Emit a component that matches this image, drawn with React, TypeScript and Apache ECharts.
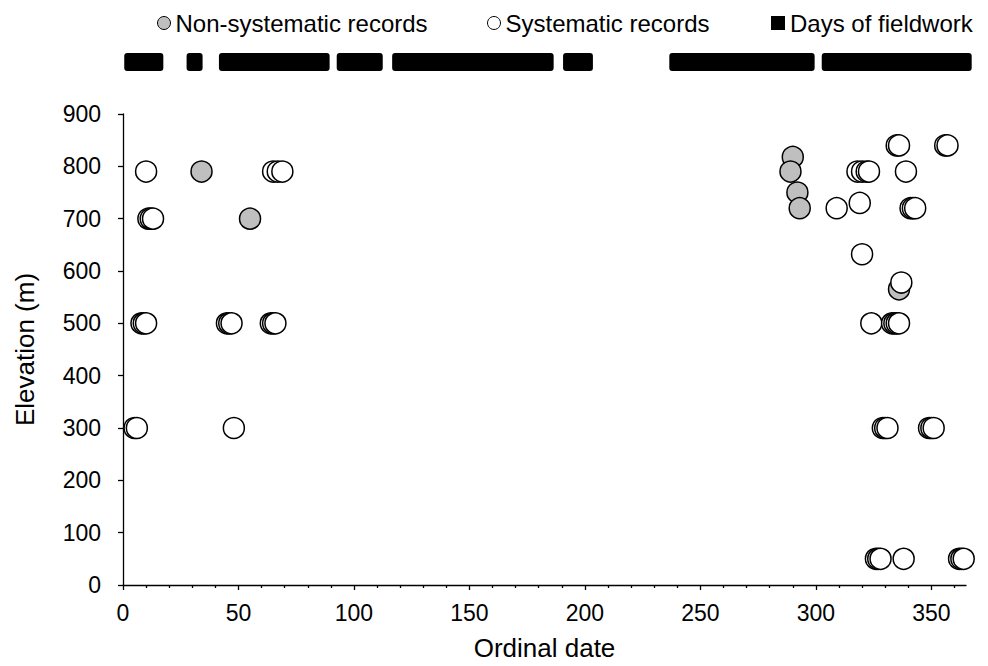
import React, { useEffect, useRef } from "react";
import * as echarts from "echarts";

const nonSystematic: [number, number][] = [
  [34, 790], [55, 700], [290, 818], [289, 790], [292, 750], [293, 720], [336, 565],
];

const systematic: [number, number][] = [
  [5, 300], [6, 300], [8, 500], [9, 500], [10, 500], [10, 790], [11, 700], [12, 700], [13, 700],
  [45, 500], [46, 500], [47, 500], [48, 300], [64, 500], [65, 500], [66, 500],
  [65, 790], [67, 790], [69, 790],
  [309, 720], [318, 790], [320, 790], [322, 790], [323, 790], [319, 730], [320, 632],
  [324, 500], [326, 50], [327, 50], [328, 50], [329, 300], [330, 300], [331, 300],
  [333, 500], [334, 500], [335, 500], [336, 500], [335, 840], [336, 840], [337, 578],
  [338, 50], [339, 790], [341, 720], [342, 720], [343, 720], [349, 300], [350, 300],
  [351, 300], [356, 840], [357, 840], [362, 50], [363, 50], [364, 50],
];

// [first day, last day] of each fieldwork period
const fieldworkPeriods: [number, number][] = [
  [4, 14], [31, 31], [45, 86], [96, 109], [120, 183], [194, 200], [240, 296], [306, 364],
];

const xMajorTicks = [0, 50, 100, 150, 200, 250, 300, 350];
const xMinorTicks = [
  10, 20, 30, 40, 60, 70, 80, 90, 110, 120, 130, 140, 160, 170, 180, 190, 210, 220, 230, 240,
  260, 270, 280, 290, 310, 320, 330, 340, 360,
];

const FONT = "Liberation Sans, Arial, sans-serif";

export default function App() {
  const ref = useRef<HTMLDivElement>(null);

  useEffect(() => {
    document.body.style.margin = "0";
    if (!ref.current) return;
    const chart = echarts.init(ref.current, undefined, { renderer: "svg" });
    const gridLeft = 123;
    const gridRight = 22;
    const legendText = { fontFamily: FONT, fontSize: 24, color: "#000" };
    chart.setOption({
      animation: false,
      backgroundColor: "#fff",
      textStyle: { fontFamily: FONT },
      legend: [
        {
          data: ["Non-systematic records"],
          left: 152,
          top: 6,
          itemWidth: 13,
          itemHeight: 13,
          textStyle: legendText,
          itemStyle: { borderWidth: 1 },
        },
        {
          data: ["Systematic records"],
          left: 482,
          top: 6,
          itemWidth: 13,
          itemHeight: 13,
          textStyle: legendText,
          itemStyle: { borderWidth: 1 },
        },
        {
          data: [{ name: "Days of fieldwork", icon: "rect" }],
          left: 766,
          top: 6,
          itemWidth: 14,
          itemHeight: 14,
          textStyle: legendText,
        },
      ],
      grid: [
        { left: gridLeft, right: gridRight, top: 114, bottom: 77 },
        { left: gridLeft, right: gridRight, top: 53, height: 18 },
      ],
      xAxis: [
        {
          gridIndex: 0,
          type: "value",
          min: 0,
          max: 365,
          name: "Ordinal date",
          nameLocation: "middle",
          nameGap: 50,
          nameTextStyle: { fontFamily: FONT, fontSize: 26, color: "#000" },
          axisLine: { show: true, lineStyle: { color: "#000", width: 1.3 } },
          axisTick: { show: true, length: 5, customValues: xMajorTicks, lineStyle: { color: "#000", width: 1.3 } },
          axisLabel: { customValues: xMajorTicks, fontFamily: FONT, fontSize: 23, color: "#000", margin: 16 },
          splitLine: { show: false },
        },
        {
          gridIndex: 0,
          type: "value",
          min: 0,
          max: 365,
          position: "bottom",
          axisLine: { show: false },
          axisTick: { show: true, length: 3, customValues: xMinorTicks, lineStyle: { color: "#000", width: 1.3 } },
          axisLabel: { show: false },
          splitLine: { show: false },
        },
        {
          gridIndex: 1,
          type: "value",
          min: 0,
          max: 365,
          show: false,
        },
      ],
      yAxis: [
        {
          gridIndex: 0,
          type: "value",
          min: 0,
          max: 900,
          interval: 100,
          name: "Elevation (m)",
          nameLocation: "middle",
          nameGap: 85,
          nameTextStyle: { fontFamily: FONT, fontSize: 26, color: "#000" },
          axisLine: { show: true, lineStyle: { color: "#000", width: 1.3 } },
          axisTick: { show: true, length: 5, lineStyle: { color: "#000", width: 1.3 } },
          axisLabel: { fontFamily: FONT, fontSize: 23, color: "#000", margin: 22 },
          splitLine: { show: false },
        },
        {
          gridIndex: 1,
          type: "value",
          min: 0,
          max: 1,
          show: false,
        },
      ],
      series: [
        {
          name: "Non-systematic records",
          type: "scatter",
          xAxisIndex: 0,
          yAxisIndex: 0,
          data: nonSystematic,
          symbol: "circle",
          symbolSize: 21,
          itemStyle: { color: "#bfbfbf", borderColor: "#000", borderWidth: 1.5, opacity: 1 },
        },
        {
          name: "Systematic records",
          type: "scatter",
          xAxisIndex: 0,
          yAxisIndex: 0,
          data: systematic,
          symbol: "circle",
          symbolSize: 21,
          itemStyle: { color: "#fff", borderColor: "#000", borderWidth: 1.5, opacity: 1 },
        },
        {
          name: "Days of fieldwork",
          type: "custom",
          xAxisIndex: 2,
          yAxisIndex: 1,
          data: fieldworkPeriods,
          itemStyle: { color: "#000" },
          renderItem: (params: any, api: any) => {
            const start = api.value(0);
            const end = api.value(1);
            const p0 = api.coord([start, 1]);
            const p1 = api.coord([end, 0]);
            return {
              type: "rect",
              shape: {
                x: p0[0] - 8,
                y: p0[1],
                width: p1[0] - p0[0] + 16,
                height: p1[1] - p0[1],
                r: 3,
              },
              style: { fill: "#000" },
            };
          },
        },
      ],
    });
    return () => chart.dispose();
  }, []);

  return <div ref={ref} style={{ width: 988, height: 666 }} />;
}
